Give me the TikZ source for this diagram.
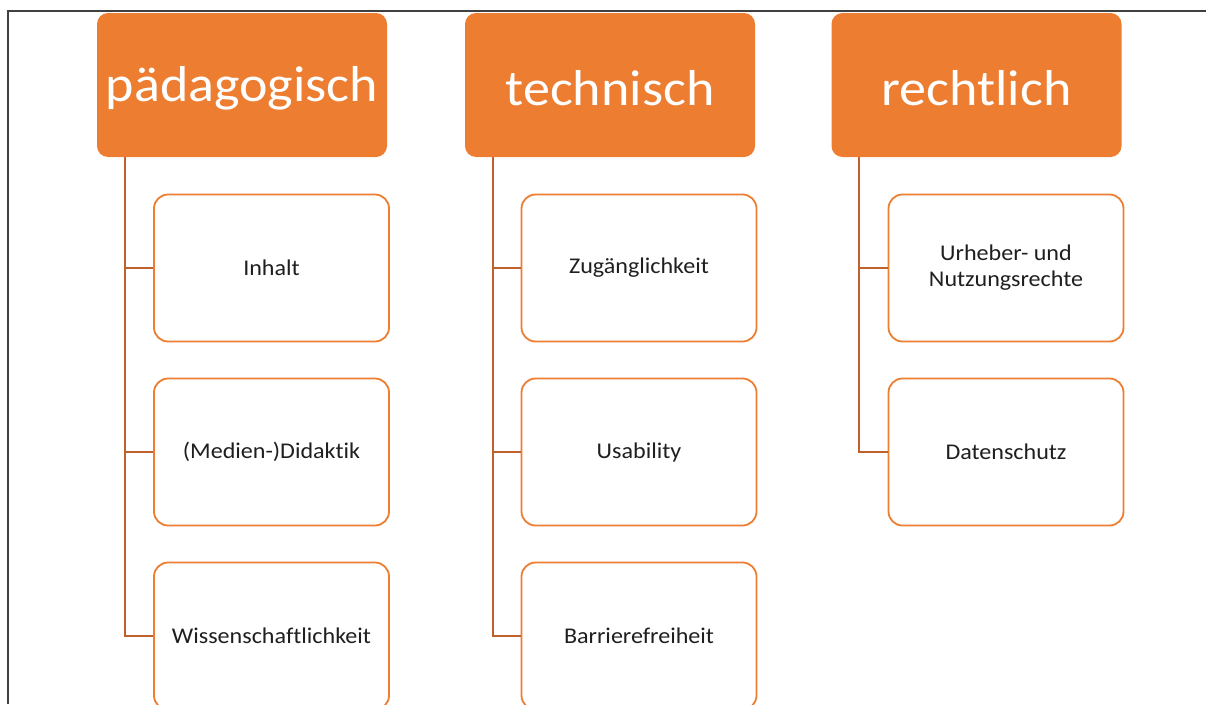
\documentclass[tikz,border=0pt]{standalone}
\usepackage{fontspec}
\setmainfont{Carlito}[Ligatures={NoCommon}, FakeStretch=1.07]
\definecolor{acc}{HTML}{ED7D31}
\definecolor{accdark}{HTML}{C0602A}
\newcommand{\lowertext}[1]{\raisebox{-3pt}[\height][\depth]{#1}}
\begin{document}
\begin{tikzpicture}[x=1pt,y=-1pt,
  head/.style={rectangle, rounded corners=11pt, fill=acc, draw=none, minimum width=290pt, minimum height=144pt, text=white, font=\fontsize{50.5}{60}\selectfont, inner sep=0pt},
  child/.style={rectangle, rounded corners=14pt, fill=white, draw=acc, line width=1.8pt, minimum width=235pt, minimum height=147pt, text=black!88, font=\fontsize{22.5}{26}\selectfont, align=center, inner sep=0pt},
  conn/.style={draw=accdark, line width=1.9pt}]
\useasboundingbox (0,0) rectangle (1206,704);
\clip (0,0) rectangle (1206,704);
\draw[line width=1.2pt, black!75] (8,704) -- (8,11) -- (1206,11);
% headers
\node[head] (h1) at (242,85) {\lowertext{pädagogisch}};
\node[head] (h2) at (610,85) {\lowertext{technisch}};
\node[head] (h3) at (976.5,85) {\lowertext{rechtlich}};
% children
\node[child] (c11) at (271.5,268) {Inhalt};
\node[child] (c12) at (271.5,452) {(Medien-)Didaktik};
\node[child] (c13) at (271.5,636) {Wissenschaftlichkeit};
\node[child] (c21) at (639,268) {Zugänglichkeit};
\node[child] (c22) at (639,452) {Usability};
\node[child] (c23) at (639,636) {Barrierefreiheit};
\node[child] (c31) at (1006,268) {Urheber- und\\Nutzungsrechte};
\node[child] (c32) at (1006,452) {Datenschutz};
% connectors
\coordinate (t1) at ([xshift=28pt]h1.south west);
\coordinate (t2) at ([xshift=28pt]h2.south west);
\coordinate (t3) at ([xshift=28pt]h3.south west);
\draw[conn] (t1) |- (c11.west);
\draw[conn] (t1) |- (c12.west);
\draw[conn] (t1) |- (c13.west);
\draw[conn] (t2) |- (c21.west);
\draw[conn] (t2) |- (c22.west);
\draw[conn] (t2) |- (c23.west);
\draw[conn] (t3) |- (c31.west);
\draw[conn] (t3) |- (c32.west);
\end{tikzpicture}
\end{document}
